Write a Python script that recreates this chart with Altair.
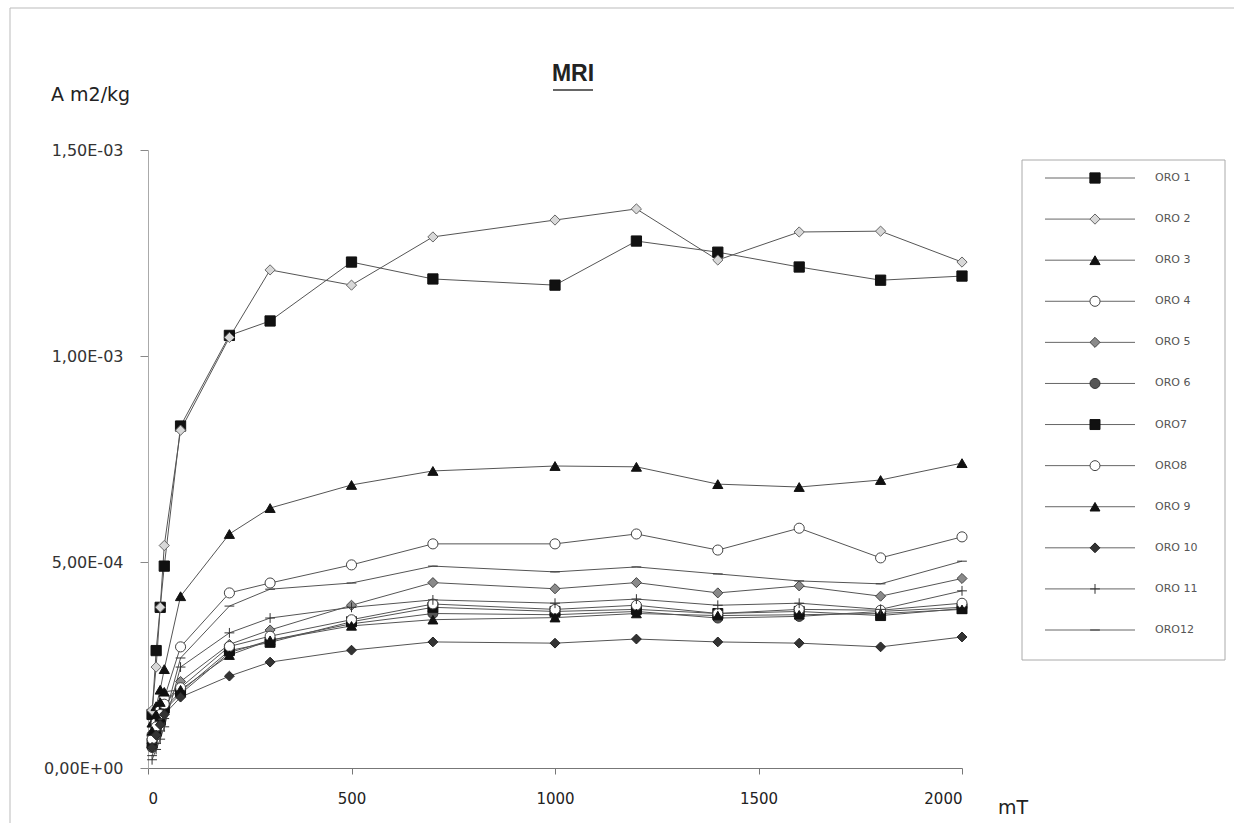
import altair as alt
import pandas as pd

# field steps (mT)
x_steps = [10, 20, 30, 40, 80, 200, 300, 500, 700, 1000, 1200, 1400, 1600, 1800, 2000]

series_names = ["ORO 1", "ORO 2", "ORO 3", "ORO 4", "ORO 5", "ORO 6",
                "ORO7", "ORO8", "ORO 9", "ORO 10", "ORO 11", "ORO12"]

oro1 = [1.3e-4, 2.85e-4, 3.9e-4, 4.9e-4, 8.3e-4, 1.05e-3, 1.085e-3, 1.228e-3, 1.187e-3, 1.172e-3, 1.279e-3, 1.252e-3, 1.216e-3, 1.184e-3, 1.194e-3]
oro2 = [1.4e-4, 2.45e-4, 3.9e-4, 5.4e-4, 8.2e-4, 1.045e-3, 1.209e-3, 1.172e-3, 1.289e-3, 1.330e-3, 1.357e-3, 1.233e-3, 1.301e-3, 1.303e-3, 1.228e-3]
oro3 = [1.1e-4, 1.5e-4, 1.9e-4, 2.4e-4, 4.17e-4, 5.68e-4, 6.31e-4, 6.87e-4, 7.21e-4, 7.33e-4, 7.31e-4, 6.89e-4, 6.82e-4, 6.99e-4, 7.40e-4]
oro4 = [0.8e-4, 1.1e-4, 1.4e-4, 1.7e-4, 2.94e-4, 4.25e-4, 4.49e-4, 4.93e-4, 5.44e-4, 5.44e-4, 5.68e-4, 5.29e-4, 5.82e-4, 5.10e-4, 5.61e-4]
oro5 = [0.6e-4, 0.9e-4, 1.2e-4, 1.5e-4, 2.1e-4, 3.0e-4, 3.35e-4, 3.95e-4, 4.5e-4, 4.35e-4, 4.5e-4, 4.25e-4, 4.42e-4, 4.17e-4, 4.6e-4]
oro6 = [0.5e-4, 0.8e-4, 1.1e-4, 1.4e-4, 1.8e-4, 2.8e-4, 3.1e-4, 3.5e-4, 3.75e-4, 3.72e-4, 3.8e-4, 3.64e-4, 3.68e-4, 3.8e-4, 3.9e-4]
oro7 = [0.6e-4, 0.9e-4, 1.15e-4, 1.45e-4, 1.85e-4, 2.85e-4, 3.05e-4, 3.55e-4, 3.9e-4, 3.8e-4, 3.85e-4, 3.75e-4, 3.8e-4, 3.7e-4, 3.87e-4]
oro8 = [0.7e-4, 1.0e-4, 1.3e-4, 1.55e-4, 1.95e-4, 2.95e-4, 3.2e-4, 3.6e-4, 3.98e-4, 3.85e-4, 3.95e-4, 3.75e-4, 3.85e-4, 3.83e-4, 4.0e-4]
oro9 = [0.9e-4, 1.3e-4, 1.6e-4, 1.85e-4, 1.9e-4, 2.74e-4, 3.1e-4, 3.45e-4, 3.6e-4, 3.65e-4, 3.75e-4, 3.7e-4, 3.72e-4, 3.75e-4, 3.85e-4]
oro10 = [0.5e-4, 0.8e-4, 1.05e-4, 1.3e-4, 1.72e-4, 2.23e-4, 2.57e-4, 2.86e-4, 3.06e-4, 3.03e-4, 3.13e-4, 3.06e-4, 3.03e-4, 2.94e-4, 3.18e-4]
oro11 = [0.2e-4, 0.45e-4, 0.7e-4, 1.0e-4, 2.45e-4, 3.28e-4, 3.64e-4, 3.9e-4, 4.08e-4, 4.0e-4, 4.1e-4, 3.95e-4, 4.0e-4, 3.85e-4, 4.3e-4]
oro12 = [0.3e-4, 0.6e-4, 0.9e-4, 1.2e-4, 2.67e-4, 3.93e-4, 4.34e-4, 4.49e-4, 4.9e-4, 4.76e-4, 4.88e-4, 4.71e-4, 4.54e-4, 4.47e-4, 5.02e-4]

all_values = [oro1, oro2, oro3, oro4, oro5, oro6, oro7, oro8, oro9, oro10, oro11, oro12]

y_tick_values = [0, 0.0005, 0.001, 0.0015]
y_tick_labels = ["0,00E+00", "5,00E-04", "1,00E-03", "1,50E-03"]
x_tick_values = [0, 500, 1000, 1500, 2000]

# marker styles
shapes = ["square", "diamond", "triangle-up", "circle", "diamond", "circle",
          "square", "circle", "triangle-up", "diamond", "M-1,0H1M0,-1V1", "M-1,0H1"]
fills = ["#111111", "#d8d8d8", "#111111", "#ffffff", "#8a8a8a", "#555555",
         "#111111", "#ffffff", "#111111", "#333333", "#333333", "#333333"]
strokes = ["#111111", "#666666", "#111111", "#444444", "#444444", "#333333",
           "#111111", "#444444", "#111111", "#222222", "#333333", "#333333"]
sizes = [105, 95, 115, 125, 85, 105, 105, 125, 85, 85, 60, 40]

rows = []
for name, vals in zip(series_names, all_values):
    for xv, yv in zip(x_steps, vals):
        rows.append({"series": name, "mT": xv, "val": yv})
df = pd.DataFrame(rows)

legend_df = pd.DataFrame({"series": series_names, "idx": list(range(len(series_names)))})

shape_scale = alt.Scale(domain=series_names, range=shapes)
fill_scale = alt.Scale(domain=series_names, range=fills)
stroke_scale = alt.Scale(domain=series_names, range=strokes)
size_scale = alt.Scale(domain=series_names, range=sizes)

label_expr = " : ".join(
    [f"abs(datum.value - {v}) < 1e-9 ? '{l}'" for v, l in zip(y_tick_values, y_tick_labels)]
) + " : ''"

FONT = "Liberation Sans"
TICKFONT = "DejaVu Sans"

x_axis = alt.Axis(values=x_tick_values, title=None, grid=False, format="d", labelFont=TICKFONT,
                  labelFontSize=15, labelColor="#222", labelPadding=17, tickSize=6,
                  tickColor="#777", domainColor="#777")
y_axis = alt.Axis(values=y_tick_values, title=None, grid=False, labelExpr=label_expr,
                  labelFont=TICKFONT, labelFontSize=16, labelColor="#333", labelPadding=17,
                  tickSize=8, tickColor="#888", domainColor="#aaa")

xs = alt.Scale(domain=[0, 2000], nice=False)
ys = alt.Scale(domain=[0, 0.0015], nice=False)

lines = alt.Chart(df).mark_line(color="#555555", strokeWidth=1).encode(
    x=alt.X("mT:Q", scale=xs, axis=x_axis),
    y=alt.Y("val:Q", scale=ys, axis=y_axis),
    detail="series:N",
)

points = alt.Chart(df).mark_point(filled=True, opacity=1, strokeWidth=1).encode(
    x=alt.X("mT:Q", scale=xs),
    y=alt.Y("val:Q", scale=ys),
    shape=alt.Shape("series:N", scale=shape_scale, legend=None),
    fill=alt.Fill("series:N", scale=fill_scale, legend=None),
    stroke=alt.Stroke("series:N", scale=stroke_scale, legend=None),
    size=alt.Size("series:N", scale=size_scale, legend=None),
)

one = pd.DataFrame({"a": [0]})

# legend box and entries
leg_box = alt.Chart(one).mark_rect(fill="white", stroke="#aaaaaa", strokeWidth=1).encode(
    x=alt.value(874), x2=alt.value(1077), y=alt.value(10), y2=alt.value(510)
)
leg_y = alt.Y("idx:Q", scale=alt.Scale(domain=[0, 11], range=[28, 480]), axis=None)
leg_lines = alt.Chart(legend_df).mark_rule(color="#666666", strokeWidth=1).encode(
    x=alt.value(897), x2=alt.value(987), y=leg_y
)
leg_points = alt.Chart(legend_df).mark_point(filled=True, opacity=1, strokeWidth=1).encode(
    x=alt.value(947), y=leg_y,
    shape=alt.Shape("series:N", scale=shape_scale, legend=None),
    fill=alt.Fill("series:N", scale=fill_scale, legend=None),
    stroke=alt.Stroke("series:N", scale=stroke_scale, legend=None),
    size=alt.Size("series:N", scale=size_scale, legend=None),
)
leg_text = alt.Chart(legend_df).mark_text(align="left", baseline="middle", font=TICKFONT,
                                           fontSize=11, color="#555555").encode(
    x=alt.value(1007), y=leg_y, text="series:N"
)

frame = alt.Chart(one).mark_rect(fill=None, stroke="#bbbbbb", strokeWidth=1).encode(
    x=alt.value(-138), x2=alt.value(1090), y=alt.value(-142), y2=alt.value(680)
)

title = alt.Chart(one).mark_text(font=FONT, fontSize=23, fontWeight="bold", color="#222",
                                 align="center", baseline="middle").encode(
    x=alt.value(425), y=alt.value(-76), text=alt.value("MRI")
)
underline = alt.Chart(one).mark_rule(color="#333", strokeWidth=1.5).encode(
    x=alt.value(405), x2=alt.value(445), y=alt.value(-60)
)
y_title = alt.Chart(one).mark_text(font=TICKFONT, fontSize=19, color="#222", align="left",
                                   baseline="middle").encode(
    x=alt.value(-97), y=alt.value(-55), text=alt.value("A m2/kg")
)

main = alt.layer(lines, points)
legend = alt.layer(leg_lines, leg_points, leg_text)

chart = alt.layer(frame, main, leg_box, legend, title, underline, y_title).resolve_scale(
    y="independent"
)

# the "mT" unit label sits just right of the last x tick label, below the axis
x_unit_layer = alt.Chart(one).mark_text(font=TICKFONT, fontSize=19, color="#222", align="left",
                                        baseline="middle").encode(
    x=alt.value(850), y=alt.value(658), text=alt.value("mT")
)

chart = alt.layer(chart, x_unit_layer).properties(
    width=814, height=618,
    padding={"left": 148, "top": 150, "right": 272, "bottom": 55},
    autosize=alt.AutoSizeParams(type="none"),
    background="white",
).configure_view(stroke=None)

chart.save("out.html", embed_options={"renderer": "svg", "actions": False})
